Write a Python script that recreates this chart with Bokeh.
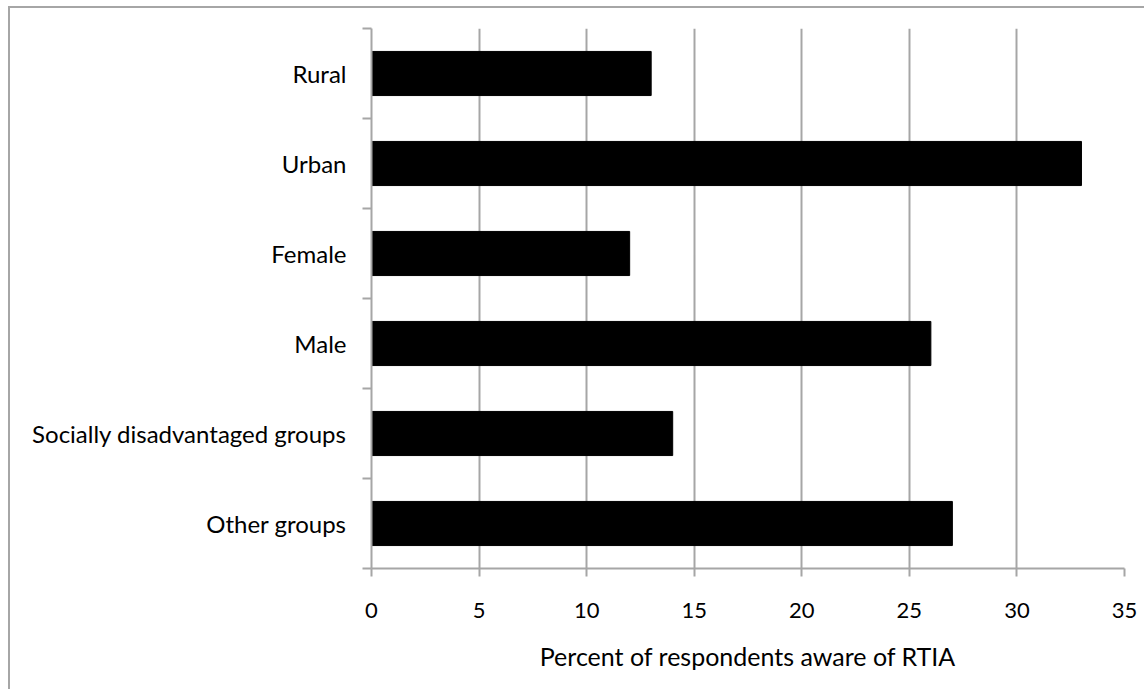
from bokeh.plotting import figure
from bokeh.models import FixedTicker, Range1d, ColumnDataSource
from bokeh.embed import file_html
from bokeh.resources import INLINE

categories = ["Rural", "Urban", "Female", "Male", "Socially disadvantaged groups", "Other groups"]
values = [13, 33, 12, 26, 14, 27]
x_ticks = [0, 5, 10, 15, 20, 25, 30, 35]
x_label = "Percent of respondents aware of RTIA"

n = len(categories)
# top-to-bottom order: first category at the top
positions = [n - i - 0.5 for i in range(n)]

source = ColumnDataSource(dict(y=positions, right=values, cat=categories))

FONT = "Lato"
GRAY = "#a6a6a6"

p = figure(width=1136, height=683, output_backend="svg", toolbar_location=None,
           x_range=Range1d(0, 35), y_range=Range1d(0, n),
           min_border_left=361, min_border_right=22, min_border_top=20, min_border_bottom=123,
           styles={"margin-left": "8px", "margin-top": "6px",
                   "border-top": "2px solid " + GRAY, "border-left": "2px solid " + GRAY})

p.hbar(y="y", right="right", left=0, height=0.49, source=source,
       fill_color="black", line_color="black")

p.outline_line_color = None
p.background_fill_color = "white"
p.border_fill_color = "white"

# x axis
xa = p.xaxis[0]
xa.ticker = FixedTicker(ticks=x_ticks)
xa.axis_label = x_label
xa.axis_label_text_font = FONT
xa.axis_label_text_font_size = "25px"
xa.axis_label_text_font_style = "normal"
xa.axis_label_text_color = "black"
xa.axis_label_standoff = 20
xa.major_label_text_font = FONT
xa.major_label_text_font_size = "22px"
xa.major_label_text_color = "black"
xa.major_label_standoff = 26
xa.axis_line_color = GRAY
xa.axis_line_width = 2
xa.major_tick_line_color = GRAY
xa.major_tick_line_width = 2
xa.major_tick_out = 8
xa.major_tick_in = 0
xa.minor_tick_line_color = None

# y axis: labels at centres, ticks at category boundaries
ya = p.yaxis[0]
ya.ticker = FixedTicker(ticks=positions, minor_ticks=list(range(n + 1)))
ya.major_label_overrides = {pos: cat for pos, cat in zip(positions, categories)}
ya.major_label_text_font = FONT
ya.major_label_text_font_size = "24px"
ya.major_label_text_color = "black"
ya.major_label_standoff = 16
ya.major_tick_line_color = None
ya.axis_line_color = GRAY
ya.axis_line_width = 2
ya.minor_tick_line_color = GRAY
ya.minor_tick_line_width = 2
ya.minor_tick_out = 9
ya.minor_tick_in = 0

p.xgrid.grid_line_color = GRAY
p.xgrid.grid_line_width = 2
p.xgrid.ticker = FixedTicker(ticks=x_ticks[1:])
p.ygrid.grid_line_color = None

open("out.html", "w").write(file_html(p, INLINE))
